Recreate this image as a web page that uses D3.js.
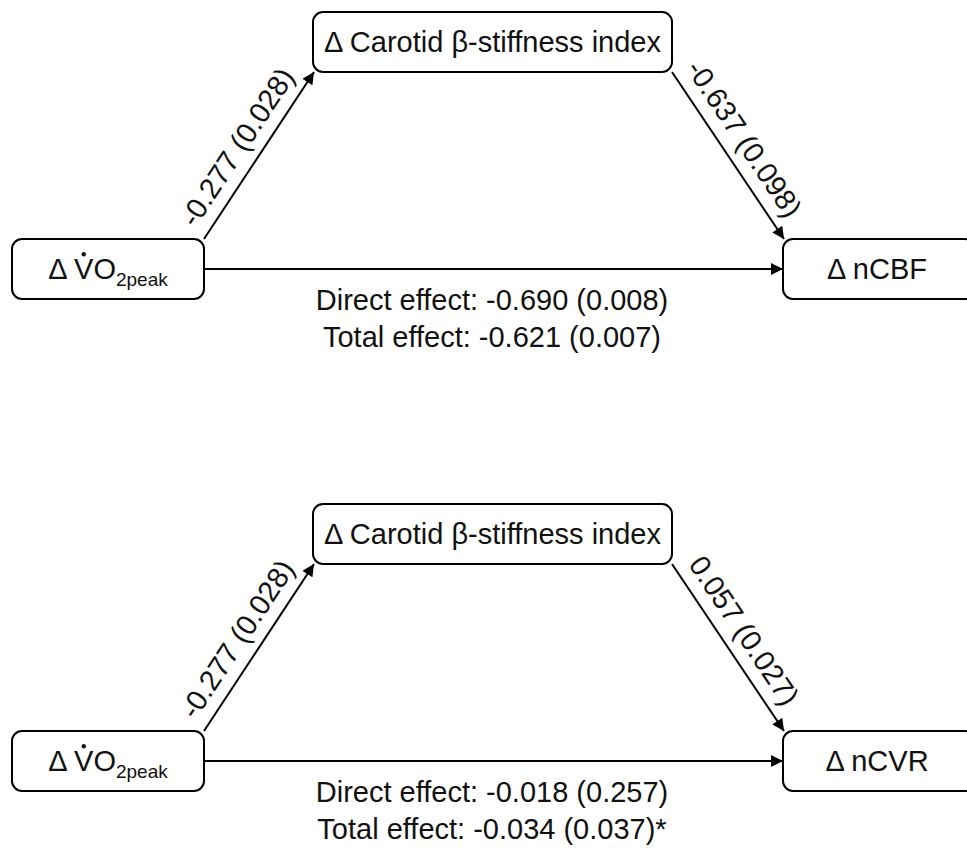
<!DOCTYPE html>
<html>
<head>
<meta charset="utf-8">
<script src="https://cdn.jsdelivr.net/npm/d3@7"></script>
<style>
  body { margin: 0; background: #fff; }
  text { font-family: "Liberation Sans", Arial, sans-serif; fill: #111; }
</style>
</head>
<body>
<svg id="chart"></svg>
<script>
const width = 967;
const height = 852;

// mediation models, one per panel
const mediatorLabel = "Δ Carotid β-stiffness index";
const exposureLabel = ["Δ V", "O", "2peak"];
const outcomeLabels = ["Δ nCBF", "Δ nCVR"];
const pathA = [-0.277, -0.277];
const pathASE = [0.028, 0.028];
const pathB = [-0.637, 0.057];
const pathBSE = [0.098, 0.027];
const directEff = [-0.690, -0.018];
const directSE = [0.008, 0.257];
const totalEff = [-0.621, -0.034];
const totalSE = [0.007, 0.037];
const totalMark = ["", "*"];

const fontSize = 29;
const fmt = d3.formatLocale({decimal: ".", thousands: ",", grouping: [3], currency: ["", ""], minus: "-"}).format(".3f");
const est = (v, se) => fmt(v) + " (" + fmt(se) + ")";

// box layout inside a panel
const exposureBox = { x: 12, y: 239, w: 192, h: 60 };
const mediatorBox = { x: 313, y: 12, w: 359, h: 60 };
const outcomeBox = { x: 783, y: 239, w: 192, h: 60 };

const panelY = d3.scaleLinear().domain([0, 1]).range([0, 492]);

const svg = d3.select("#chart")
    .attr("width", width)
    .attr("height", height);

svg.append("defs").append("marker")
    .attr("id", "arrow")
    .attr("viewBox", "0 0 10 10")
    .attr("refX", 10)
    .attr("refY", 5)
    .attr("markerUnits", "userSpaceOnUse")
    .attr("markerWidth", 17)
    .attr("markerHeight", 12)
    .attr("orient", "auto")
    .append("path")
    .attr("d", "M0,0L10,5L0,10z")
    .attr("fill", "#000");

const panels = svg.selectAll("g.panel")
    .data(outcomeLabels.map((d, i) => i))
    .enter()
    .append("g")
    .attr("class", "panel")
    .attr("transform", i => `translate(0,${panelY(i)})`);

panels.each(function(i) {
    const g = d3.select(this);

    // arrows
    const links = [
        { x1: exposureBox.x + exposureBox.w, y1: exposureBox.y, x2: mediatorBox.x + 1, y2: mediatorBox.y + mediatorBox.h, label: est(pathA[i], pathASE[i]) },
        { x1: mediatorBox.x + mediatorBox.w, y1: mediatorBox.y + mediatorBox.h, x2: outcomeBox.x + 1, y2: outcomeBox.y, label: est(pathB[i], pathBSE[i]) },
        { x1: exposureBox.x + exposureBox.w, y1: exposureBox.y + exposureBox.h / 2, x2: outcomeBox.x, y2: outcomeBox.y + outcomeBox.h / 2, label: null }
    ];

    g.selectAll("line")
        .data(links)
        .enter()
        .append("line")
        .attr("x1", d => d.x1)
        .attr("y1", d => d.y1)
        .attr("x2", d => d.x2)
        .attr("y2", d => d.y2)
        .attr("stroke", "#000")
        .attr("stroke-width", 2)
        .attr("marker-end", "url(#arrow)");

    g.selectAll("text.path")
        .data(links.filter(d => d.label))
        .enter()
        .append("text")
        .attr("class", "path")
        .attr("text-anchor", "middle")
        .attr("dy", "0.35em")
        .style("font-size", fontSize + "px")
        .attr("transform", d => {
            const dx = d.x2 - d.x1, dy = d.y2 - d.y1;
            const len = Math.sqrt(dx * dx + dy * dy);
            const ux = dx / len, uy = dy / len;
            const nx = uy, ny = -ux;
            const cx = (d.x1 + d.x2) / 2 + nx * 23 - ux * 5;
            const cy = (d.y1 + d.y2) / 2 + ny * 23 - uy * 5;
            const ang = Math.atan2(dy, dx) * 180 / Math.PI;
            return `translate(${cx},${cy}) rotate(${ang})`;
        })
        .text(d => d.label);

    // boxes
    g.selectAll("rect")
        .data([exposureBox, mediatorBox, outcomeBox])
        .enter()
        .append("rect")
        .attr("x", d => d.x)
        .attr("y", d => d.y)
        .attr("width", d => d.w)
        .attr("height", d => d.h)
        .attr("rx", 10)
        .attr("fill", "#fff")
        .attr("stroke", "#000")
        .attr("stroke-width", 2);

    g.append("text")
        .attr("x", mediatorBox.x + mediatorBox.w / 2)
        .attr("y", mediatorBox.y + mediatorBox.h / 2)
        .attr("dy", "0.35em")
        .attr("text-anchor", "middle")
        .style("font-size", fontSize + "px")
        .text(mediatorLabel);

    g.append("text")
        .attr("x", outcomeBox.x + outcomeBox.w / 2 - 2)
        .attr("y", outcomeBox.y + outcomeBox.h / 2)
        .attr("dy", "0.35em")
        .attr("text-anchor", "middle")
        .style("font-size", fontSize + "px")
        .text(outcomeLabels[i]);

    const ex = g.append("text")
        .attr("x", exposureBox.x + exposureBox.w / 2)
        .attr("y", exposureBox.y + exposureBox.h / 2 + fontSize * 0.35)
        .attr("text-anchor", "middle")
        .style("font-size", fontSize + "px");
    ex.append("tspan").text(exposureLabel[0]);
    ex.append("tspan").text(exposureLabel[1]);
    ex.append("tspan")
        .attr("dy", 7)
        .style("font-size", "19px")
        .text(exposureLabel[2]);

    // dot over V
    const vs = ex.node().getStartPositionOfChar(2);
    const ve = ex.node().getEndPositionOfChar(2);
    g.append("circle")
        .attr("cx", (vs.x + ve.x) / 2)
        .attr("cy", vs.y - fontSize * 0.86)
        .attr("r", 2.2)
        .attr("fill", "#111");

    // effects
    const effects = [
        "Direct effect: " + est(directEff[i], directSE[i]),
        "Total effect: " + est(totalEff[i], totalSE[i]) + totalMark[i]
    ];
    g.selectAll("text.effect")
        .data(effects)
        .enter()
        .append("text")
        .attr("class", "effect")
        .attr("x", 492)
        .attr("y", (d, j) => 310 + j * 37)
        .attr("text-anchor", "middle")
        .style("font-size", fontSize + "px")
        .text(d => d);
});
</script>
</body>
</html>
